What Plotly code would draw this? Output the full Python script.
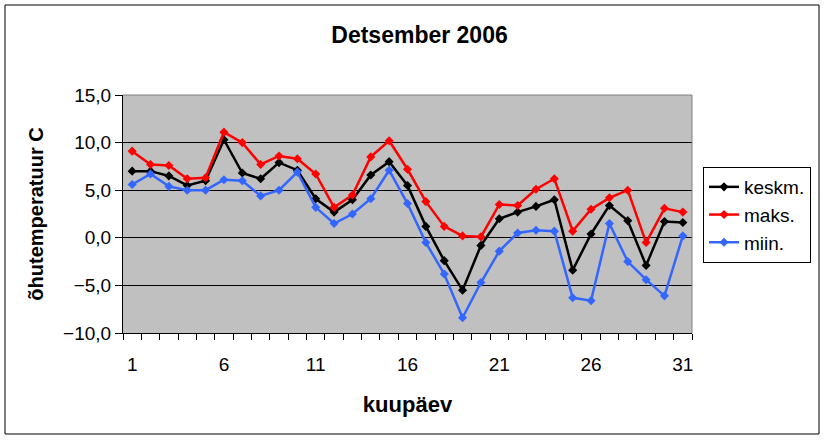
import plotly.graph_objects as go

# December 2006 daily air temperature
days = list(range(1, 32))
keskm = [7.0, 7.0, 6.5, 5.5, 6.0, 10.3, 6.8, 6.2, 7.9, 7.1,
         4.1, 2.7, 4.0, 6.6, 8.0, 5.5, 1.2, -2.4, -5.5, -0.8,
         2.0, 2.7, 3.3, 4.0, -3.4, 0.4, 3.4, 1.8, -2.9, 1.7, 1.6]
maks = [9.1, 7.7, 7.6, 6.2, 6.3, 11.1, 10.0, 7.7, 8.6, 8.3,
        6.7, 3.2, 4.5, 8.5, 10.2, 7.2, 3.8, 1.2, 0.2, 0.1,
        3.5, 3.4, 5.1, 6.2, 0.7, 3.0, 4.2, 5.0, -0.5, 3.1, 2.7]
miin = [5.6, 6.7, 5.4, 5.0, 5.0, 6.1, 6.0, 4.4, 5.0, 6.9,
        3.2, 1.5, 2.5, 4.1, 7.1, 3.6, -0.5, -3.8, -8.4, -4.7,
        -1.4, 0.5, 0.8, 0.7, -6.3, -6.6, 1.5, -2.5, -4.4, -6.1, 0.2]
x_ticks = [1, 6, 11, 16, 21, 26, 31]
y_ticks = [15, 10, 5, 0, -5, -10]

FONT = "Liberation Sans, Arial, sans-serif"

series = [
    ("keskm.", keskm, "#000000"),
    ("maks.", maks, "#FF0000"),
    ("miin.", miin, "#3366FF"),
]

fig = go.Figure()
for name, vals, color in series:
    fig.add_trace(go.Scatter(
        x=days, y=vals, name=name, mode="lines+markers",
        line=dict(color=color, width=2.5),
        marker=dict(symbol="diamond", size=7, color=color),
        legendgroup=name,
    ))

# plot area: x 123..692, y 95..333 px
L, R, T, B = 123, 692, 95, 333
W, H = 826, 440
pw, ph = R - L, B - T


def px(xp):
    return (xp - L) / pw


def py(yp):
    return (B - yp) / ph


fig.update_layout(
    width=W, height=H,
    margin=dict(l=L, r=W - R, t=T, b=H - B),
    paper_bgcolor="white",
    plot_bgcolor="#C0C0C0",
    separators=", ",
    font=dict(family=FONT, color="black", size=19),
    title=dict(text="<b>Detsember 2006</b>", x=px(412), xanchor="center",
               y=1 - 35 / H, yanchor="middle",
               font=dict(family=FONT, size=23, color="black")),
    legend=dict(x=px(703), xanchor="left", y=py(167), yanchor="top",
                bgcolor="white", bordercolor="black", borderwidth=1,
                font=dict(family=FONT, size=19), tracegroupgap=0,
                itemwidth=30),
    showlegend=True,
)

fig.update_xaxes(
    range=[0.5, 31.5], tickmode="array", tickvals=x_ticks,
    ticks="", showgrid=False, zeroline=False,
    showline=True, linecolor="black", linewidth=1,
    ticklabelstandoff=14,
    tickfont=dict(family=FONT, size=19),
    minor=dict(tickmode="array", tickvals=[d - 0.5 for d in range(1, 33)],
               ticks="outside", ticklen=6, tickcolor="black", showgrid=False),
    title=dict(text="<b>kuupäev</b>", standoff=22,
               font=dict(family=FONT, size=22)),
)
fig.update_yaxes(
    range=[-10, 15], tickmode="array", tickvals=y_ticks, tickformat=".1f",
    ticks="outside", ticklen=7, tickcolor="black",
    showgrid=True, gridcolor="black", gridwidth=1, zeroline=False,
    showline=True, linecolor="black", linewidth=1,
    tickfont=dict(family=FONT, size=19),
    title=dict(text="<b>õhutemperatuur C</b>", standoff=14,
               font=dict(family=FONT, size=20)),
)

# gray border on top and right of the plot area, outer chart frame
fig.add_shape(type="line", xref="paper", yref="paper", x0=0, x1=1, y0=1, y1=1,
              line=dict(color="#808080", width=1))
fig.add_shape(type="line", xref="paper", yref="paper", x0=1, x1=1, y0=0, y1=1,
              line=dict(color="#808080", width=1))
fig.add_shape(type="rect", xref="paper", yref="paper",
              x0=px(5), x1=px(819), y0=py(434), y1=py(5),
              line=dict(color="black", width=1))

fig.write_html("out.html", config={"displayModeBar": False})

# drop the default page margin so the chart sits at the window's corner
with open("out.html", "r", encoding="utf-8") as f:
    content = f.read()
content = content.replace("<body>", '<body style="margin:0">', 1)
with open("out.html", "w", encoding="utf-8") as f:
    f.write(content)
